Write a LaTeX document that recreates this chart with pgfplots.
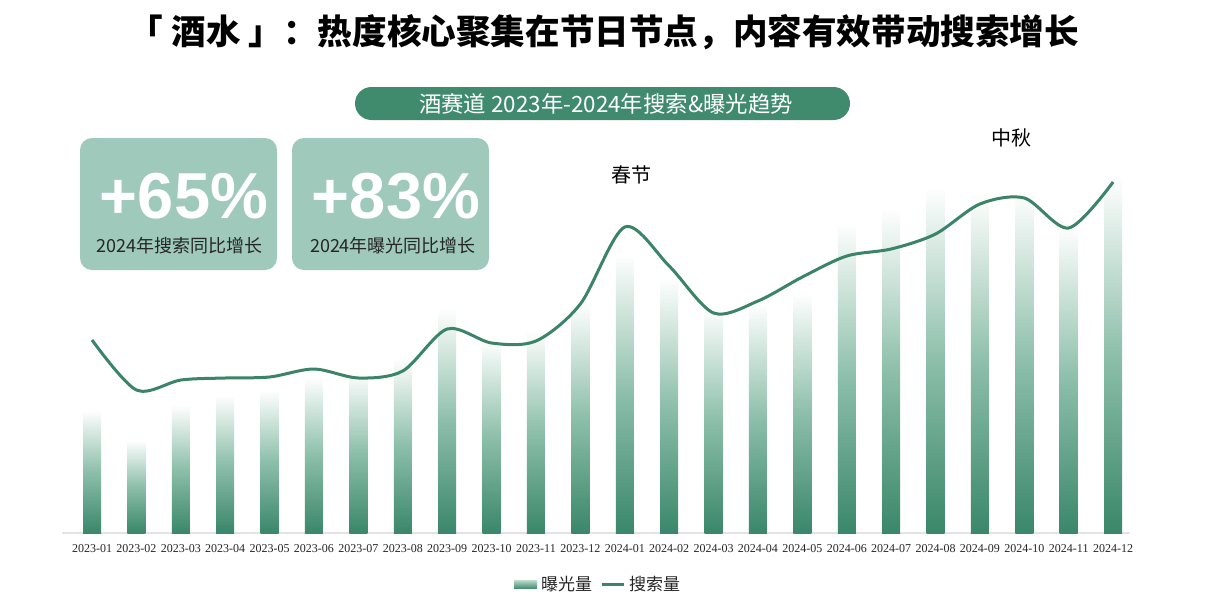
\documentclass[border=0pt]{standalone}
\usepackage{fontspec}
\usepackage{pgfplots}
\usepackage{pgfplotstable}
\pgfplotsset{compat=1.18}
\setmainfont{Noto Sans CJK SC}
\newfontfamily\numfont{Liberation Sans}
\newfontfamily\tickfont{Liberation Serif}

\definecolor{lineGreen}{HTML}{3B8467}
\definecolor{barDark}{HTML}{3A876A}
\definecolor{barMid}{HTML}{8DBFAA}
\definecolor{pillGreen}{HTML}{408B6D}
\definecolor{boxGreen}{HTML}{9EC9BB}
\definecolor{axisGray}{HTML}{E3E3E3}

% monthly exposure (bars) and search volume (line), in chart units
\pgfplotstableread{
x  label    expo  search
0  2023-01  123   193
1  2023-02   93   143
2  2023-03  128   153
3  2023-04  138   155
4  2023-05  143   156
5  2023-06  156   164
6  2023-07  161   155
7  2023-08  175   162
8  2023-09  225   204
9  2023-10  193   190
10 2023-11  203   192
11 2023-12  231   229
12 2024-01  280   306
13 2024-02  255   267
14 2024-03  226   220
15 2024-04  230   232
16 2024-05  240   256
17 2024-06  311   277
18 2024-07  325   284
19 2024-08  346   299
20 2024-09  340   329
21 2024-10  342   335
22 2024-11  308   305
23 2024-12  356   351
}\data

\begin{document}
\begin{tikzpicture}
\path[fill=white] (0,0) rectangle (603pt,301pt);

% headline
\node[font=\fontsize{17.3}{20}\selectfont\bfseries, text=black] at (302pt,285pt)
  {「 酒水 」：热度核心聚集在节日节点，内容有效带动搜索增长};

% subtitle pill
\fill[pillGreen, rounded corners=8.25pt] (177.5pt,241pt) rectangle (425pt,257.5pt);
\node[font=\fontsize{11.2}{13}\selectfont, text=white] at (303pt,249.25pt)
  {酒赛道 2023年-2024年搜索\&曝光趋势};

% growth boxes
\fill[boxGreen, rounded corners=6pt] (40pt,166pt) rectangle (138.5pt,232pt);
\fill[boxGreen, rounded corners=6pt] (146pt,166pt) rectangle (244.5pt,232pt);
\node[font=\numfont\bfseries\fontsize{32.5}{34}\selectfont, text=white] at (92pt,203pt) {+65\%};
\node[font=\numfont\bfseries\fontsize{32.5}{34}\selectfont, text=white] at (198pt,203pt) {+83\%};
\node[font=\fontsize{9}{11}\selectfont, text=black!85] at (89.75pt,178pt) {2024年搜索同比增长};
\node[font=\fontsize{9}{11}\selectfont, text=black!85] at (196.5pt,178pt) {2024年曝光同比增长};

\begin{axis}[
  at={(31pt,34.5pt)}, anchor=south west,
  scale only axis, width=534pt, height=201.5pt,
  xmin=-0.676, xmax=23.38, ymin=0, ymax=403,
  axis x line*=bottom, hide y axis,
  x axis line style={draw=axisGray, line width=0.8pt},
  xtick={0,...,23}, xticklabels from table={\data}{label},
  xtick style={draw=none}, major tick length=0pt,
  xticklabel style={font=\tickfont\fontsize{6}{7}\selectfont, text=black!85, yshift=-2pt},
  clip=false,
  legend columns=2,
  legend style={at={(0.503,-0.129)}, anchor=center, draw=none, fill=none,
    font=\fontsize{8.5}{10}\selectfont, text=black!85, inner sep=0pt,
    /tikz/every even column/.append style={column sep=2pt}},
]
% one plot per month so that every bar gets its own fade to white
\pgfplotsinvokeforeach{0,...,23}{
  \addplot[ybar, bar width=9pt, draw=none, forget plot,
    top color=white, bottom color=barDark, middle color=barMid,
    x filter/.expression={abs(x-#1)<0.1 ? x : nan}]
    table[x=x, y=expo]{\data};
}
\addlegendimage{draw=none, legend image code/.code={\shade[draw=none, top color=barMid!70, bottom color=barDark] (0pt,-2pt) rectangle (11.5pt,2pt);}}
\addlegendentry{曝光量}
\addplot[smooth, lineGreen, line width=1.5pt, mark=none,
  legend image code/.code={\draw[lineGreen, line width=1.5pt] (0pt,0pt) -- (11pt,0pt);}]
  table[x=x, y=search]{\data};
\addlegendentry{搜索量}

\node[font=\fontsize{10}{12}\selectfont, text=black] at (axis cs:12.16,358) {春节};
\node[font=\fontsize{10}{12}\selectfont, text=black] at (axis cs:20.7,395) {中秋};
\end{axis}
\end{tikzpicture}
\end{document}
